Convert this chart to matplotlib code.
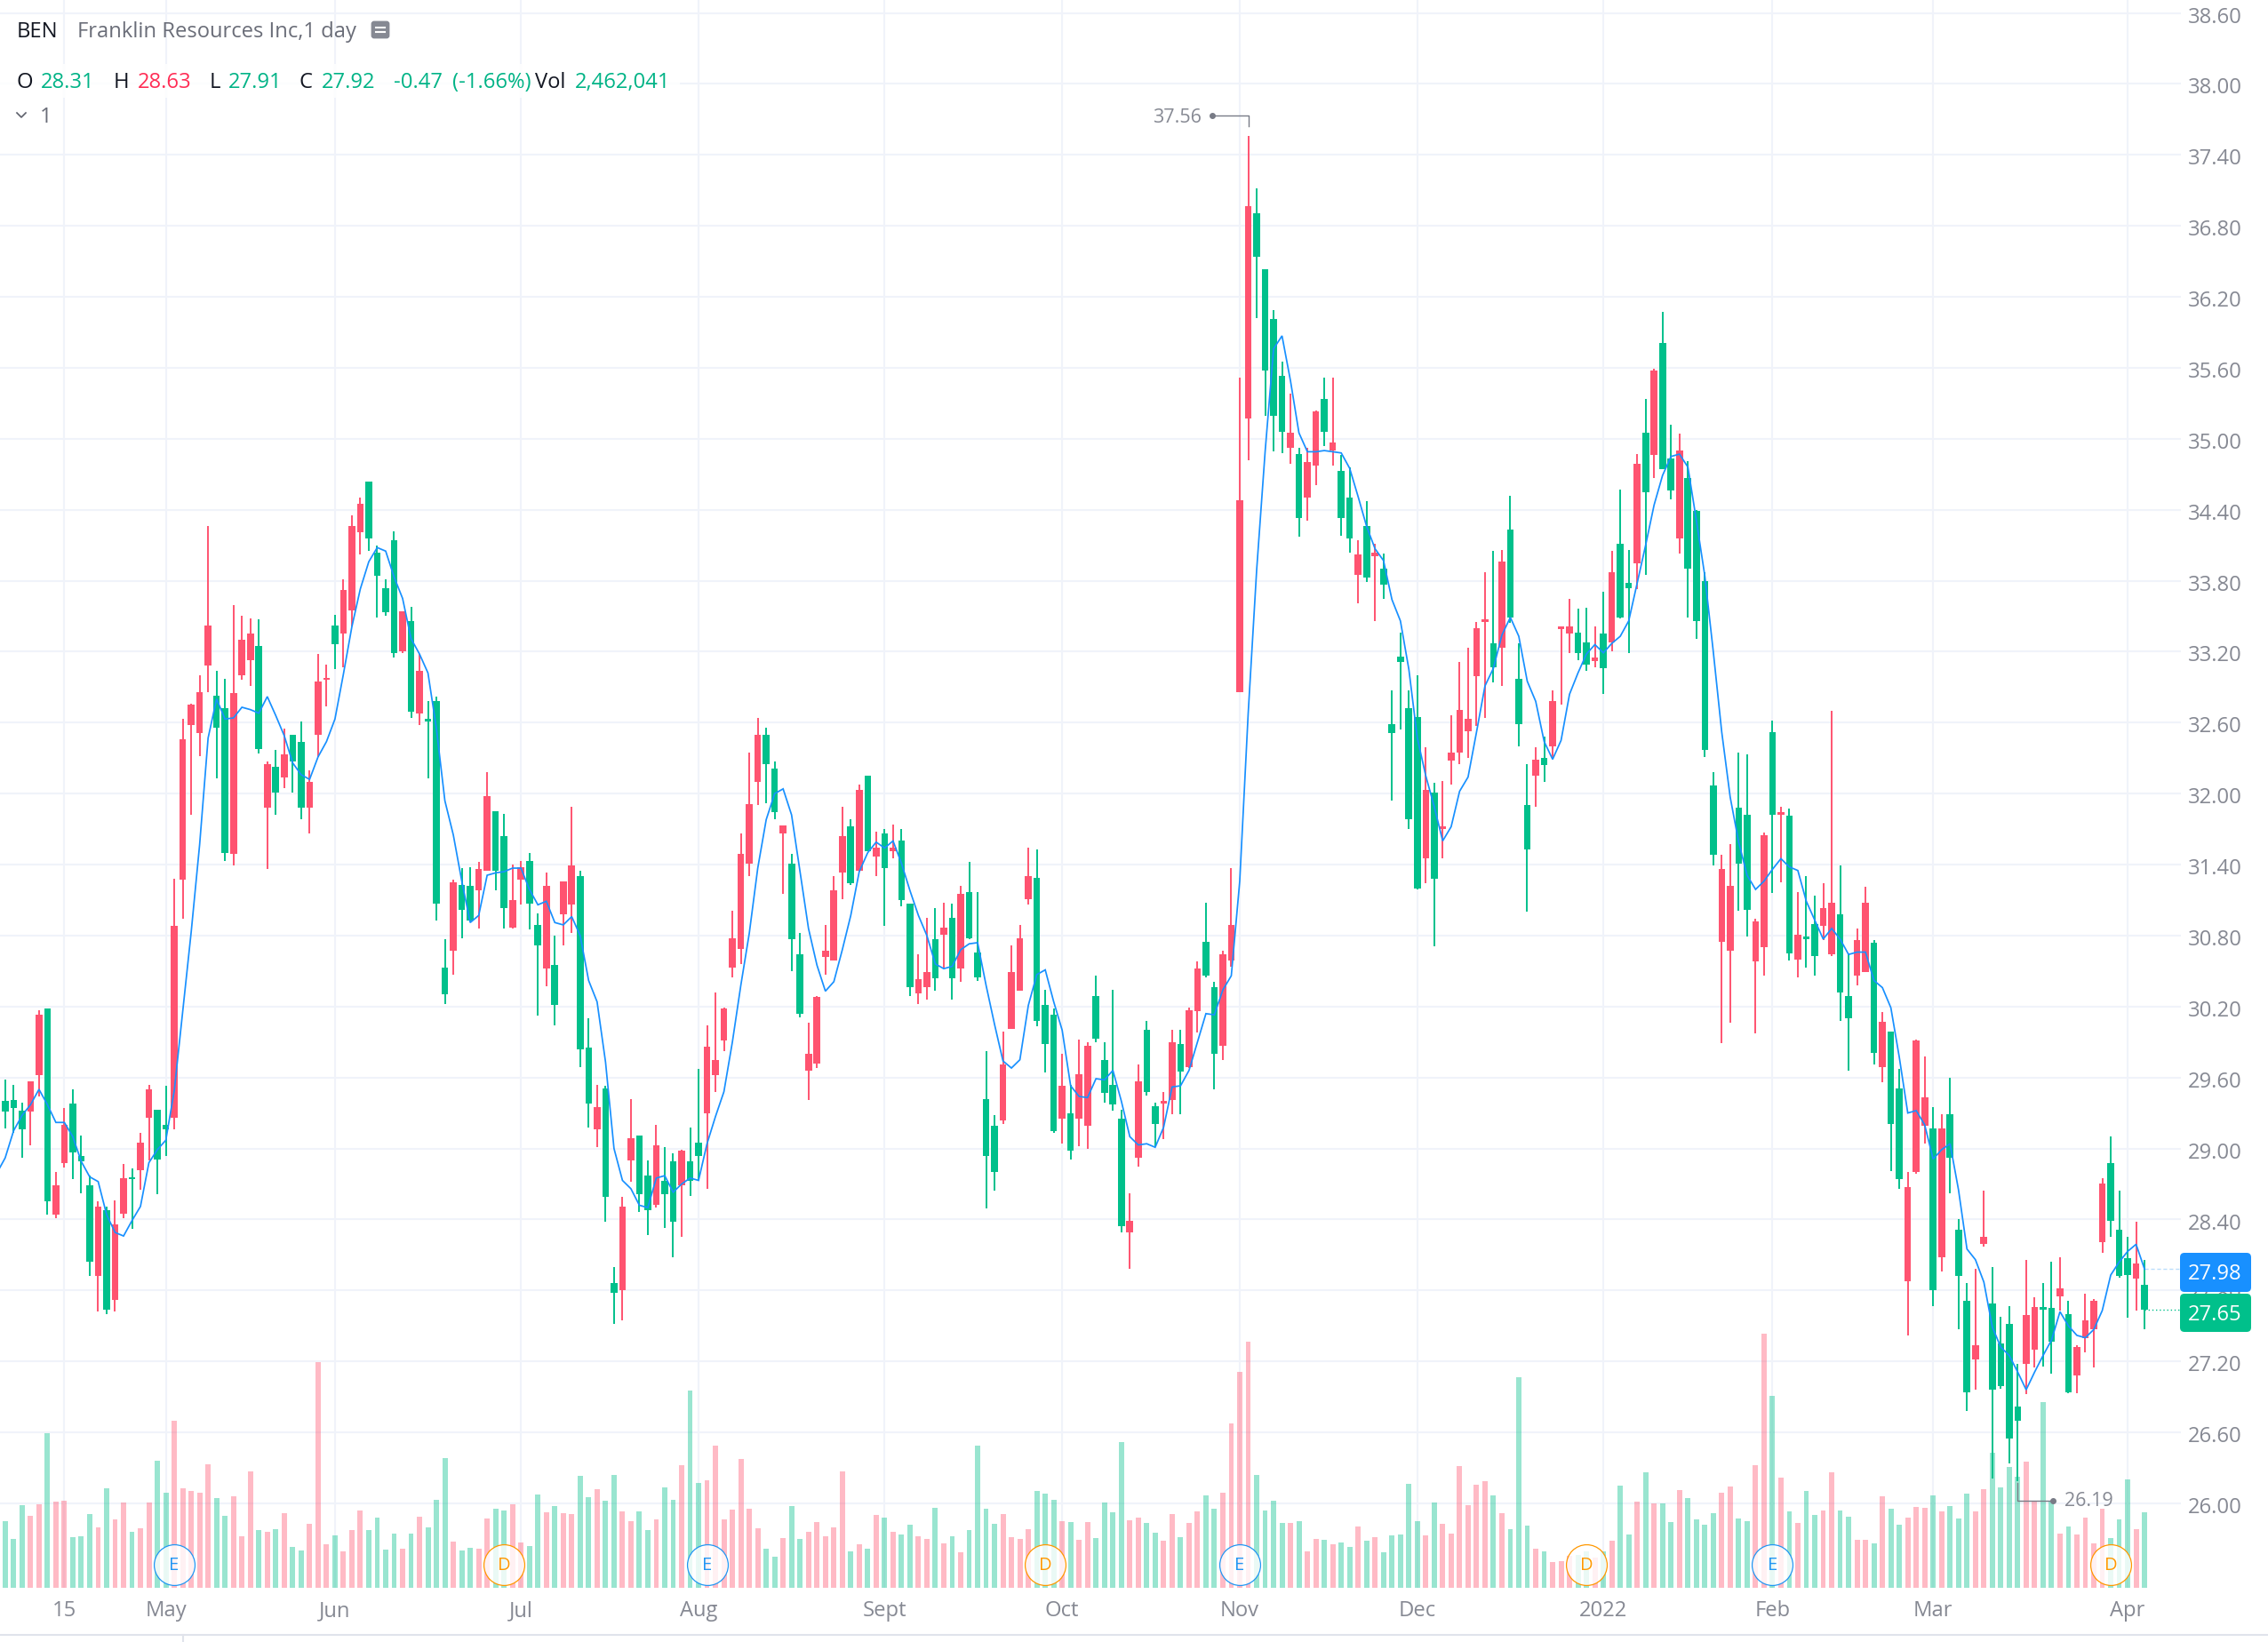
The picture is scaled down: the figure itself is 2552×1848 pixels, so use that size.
import numpy as np
import matplotlib
matplotlib.use("Agg")
import matplotlib.pyplot as plt
from matplotlib.patches import FancyBboxPatch, Rectangle
from matplotlib.transforms import ScaledTranslation

plt.rcParams["font.family"] = ["Open Sans", "DejaVu Sans"]

# daily candles, first one is cut off by the left edge
opens = [
    29.37, 29.40, 29.41, 29.32, 29.31, 29.62, 30.18, 28.44, 28.88, 29.38,
    28.94, 28.69, 27.92, 28.48, 27.72, 28.45, 28.75, 28.82, 29.26, 29.33,
    29.20, 29.26, 31.27, 32.58, 32.51, 33.08, 32.83, 32.72, 31.49, 33.00,
    33.13, 33.25, 31.88, 32.23, 32.14, 32.50, 32.44, 31.88, 32.50, 32.96,
    33.42, 33.35, 33.55, 34.21, 34.64, 34.04, 33.74, 34.14, 33.20, 33.46,
    32.68, 32.62, 32.78, 30.53, 30.67, 31.23, 31.22, 31.18, 31.35, 31.85,
    31.64, 30.87, 31.27, 31.43, 30.89, 30.52, 30.55, 30.98, 31.06, 31.30,
    29.85, 29.16, 29.51, 27.86, 27.80, 28.90, 29.11, 28.77, 28.52, 28.73,
    28.89, 28.69, 28.89, 29.05, 29.30, 29.62, 29.91, 30.53, 30.69, 31.41,
    32.10, 32.50, 32.21, 31.66, 31.41, 30.64, 29.66, 29.72, 30.62, 30.59,
    31.33, 31.72, 31.35, 32.15, 31.47, 31.66, 31.51, 31.60, 31.07, 30.31,
    30.36, 30.77, 30.81, 30.95, 30.52, 31.17, 30.66, 29.42, 29.19, 29.24,
    30.01, 30.33, 31.11, 31.29, 30.21, 30.13, 29.25, 29.30, 29.25, 29.19,
    30.29, 29.75, 29.54, 29.25, 28.29, 28.92, 30.00, 29.36, 29.38, 29.41,
    29.88, 29.69, 30.16, 30.75, 30.36, 29.87, 30.59, 32.86, 35.17, 36.91,
    36.43, 36.01, 35.53, 34.92, 34.87, 34.50, 34.77, 35.34, 34.90, 34.73,
    34.50, 33.85, 34.26, 34.01, 33.90, 32.59, 33.16, 32.72, 32.65, 31.45,
    32.01, 31.70, 32.28, 32.35, 32.53, 32.99, 33.45, 33.27, 33.23, 34.23,
    32.97, 31.90, 32.15, 32.30, 32.40, 33.39, 33.35, 33.36, 33.28, 33.12,
    33.35, 33.28, 34.11, 33.78, 33.95, 35.05, 34.86, 35.81, 34.83, 34.16,
    34.67, 34.39, 33.80, 32.07, 30.75, 30.67, 31.88, 31.82, 30.58, 30.70,
    32.52, 31.82, 31.81, 30.60, 30.79, 30.90, 30.88, 30.64, 30.98, 30.29,
    30.46, 30.49, 30.74, 29.69, 29.99, 29.51, 27.88, 28.80, 29.19, 29.17,
    28.08, 29.29, 28.31, 27.71, 27.22, 28.19, 27.69, 27.35, 27.52, 26.82,
    27.18, 27.30, 27.65, 27.65, 27.75, 27.60, 27.08, 27.40, 27.47, 28.21,
    28.88, 28.31, 28.07, 27.90, 27.85,
]
closes = [
    29.44, 29.31, 29.34, 29.16, 29.57, 30.13, 28.55, 28.69, 29.20, 28.97,
    28.89, 28.04, 28.51, 27.64, 28.36, 28.75, 28.74, 29.05, 29.50, 28.91,
    29.16, 30.88, 32.46, 32.75, 32.86, 33.42, 32.56, 31.50, 32.85, 33.30,
    33.35, 32.38, 32.25, 32.01, 32.33, 32.27, 31.88, 32.10, 32.95, 32.97,
    33.26, 33.72, 34.26, 34.45, 34.16, 33.84, 33.53, 33.19, 33.54, 32.69,
    33.04, 32.61, 31.07, 30.30, 31.25, 31.02, 30.93, 31.36, 31.98, 31.35,
    31.03, 31.10, 31.38, 31.07, 30.72, 31.22, 30.21, 31.26, 31.39, 29.84,
    29.38, 29.35, 28.59, 27.78, 28.51, 29.09, 28.61, 28.48, 29.03, 28.61,
    28.38, 28.98, 28.73, 28.94, 29.86, 29.75, 30.18, 30.78, 31.49, 31.91,
    32.50, 32.25, 31.84, 31.73, 30.77, 30.14, 29.80, 30.28, 30.67, 31.18,
    31.64, 31.24, 32.03, 31.51, 31.54, 31.37, 31.54, 31.10, 30.36, 30.43,
    30.49, 30.44, 30.87, 30.44, 31.15, 30.78, 30.45, 28.94, 28.80, 29.71,
    30.49, 30.78, 31.30, 30.08, 29.88, 29.15, 29.53, 28.98, 29.63, 29.87,
    29.93, 29.47, 29.37, 28.34, 28.39, 29.57, 29.48, 29.21, 29.39, 29.90,
    29.65, 30.17, 30.52, 30.46, 29.80, 30.64, 30.89, 34.48, 36.97, 36.54,
    35.58, 35.19, 35.06, 35.05, 34.33, 34.80, 35.23, 35.06, 34.97, 34.33,
    34.16, 34.02, 33.83, 34.04, 33.77, 32.51, 33.11, 31.78, 31.20, 32.03,
    31.28, 31.72, 32.35, 32.71, 32.63, 33.40, 33.47, 33.07, 33.96, 33.49,
    32.59, 31.53, 32.29, 32.24, 32.78, 33.41, 33.41, 33.19, 33.09, 33.15,
    33.06, 33.87, 33.49, 33.74, 34.79, 34.55, 35.58, 34.74, 34.56, 34.90,
    33.90, 33.46, 32.37, 31.48, 31.36, 31.22, 31.41, 31.02, 30.92, 31.65,
    31.82, 31.83, 30.65, 30.81, 30.77, 30.63, 31.03, 31.08, 30.32, 30.10,
    30.76, 31.08, 29.81, 30.07, 29.21, 28.74, 28.67, 29.91, 29.43, 27.80,
    29.17, 28.92, 27.92, 26.94, 27.34, 28.25, 26.96, 26.99, 26.55, 26.70,
    27.59, 27.66, 27.64, 27.37, 27.82, 26.94, 27.32, 27.55, 27.71, 28.70,
    28.39, 27.92, 27.93, 28.03, 27.64,
]
highs = [
    29.50, 29.58, 29.54, 29.39, 29.57, 30.17, 30.18, 28.80, 29.34, 29.50,
    29.11, 28.77, 28.55, 28.51, 28.56, 28.87, 28.83, 29.13, 29.54, 29.33,
    29.53, 31.28, 32.63, 32.76, 33.00, 34.26, 33.04, 32.97, 33.59, 33.50,
    33.48, 33.47, 32.27, 32.37, 32.55, 32.50, 32.61, 32.20, 33.18, 33.09,
    33.51, 33.81, 34.35, 34.50, 34.64, 34.10, 33.81, 34.22, 33.54, 33.58,
    33.18, 32.78, 32.82, 30.77, 31.27, 31.37, 31.38, 31.42, 32.18, 31.85,
    31.83, 31.40, 31.43, 31.50, 30.99, 31.33, 30.80, 31.26, 31.89, 31.35,
    30.10, 29.54, 29.53, 28.00, 28.59, 29.42, 29.11, 28.90, 29.20, 29.01,
    28.96, 28.99, 29.18, 29.67, 30.04, 30.32, 30.19, 31.01, 31.66, 32.35,
    32.64, 32.56, 32.27, 31.73, 31.49, 30.82, 30.06, 30.29, 30.89, 31.30,
    31.89, 31.78, 32.08, 32.15, 31.68, 31.70, 31.74, 31.70, 31.07, 30.64,
    30.95, 31.03, 31.08, 31.07, 31.22, 31.42, 31.17, 29.82, 29.28, 29.99,
    30.72, 30.89, 31.54, 31.53, 30.34, 30.18, 29.80, 29.54, 29.92, 29.90,
    30.46, 29.90, 30.34, 29.33, 28.62, 29.71, 30.08, 29.39, 29.48, 30.00,
    30.00, 30.19, 30.58, 31.08, 30.41, 30.67, 31.37, 35.52, 37.56, 37.12,
    36.43, 36.09, 35.65, 35.38, 34.92, 34.92, 35.24, 35.52, 35.52, 34.86,
    34.76, 34.14, 34.47, 34.11, 34.03, 32.87, 33.36, 32.87, 33.00, 32.39,
    32.09, 32.11, 32.66, 33.11, 33.23, 33.45, 33.87, 34.05, 34.06, 34.52,
    33.27, 32.25, 32.39, 32.48, 32.87, 33.41, 33.65, 33.56, 33.57, 33.41,
    33.71, 34.05, 34.57, 34.06, 34.87, 35.34, 35.59, 36.07, 35.12, 35.04,
    34.81, 34.40, 33.87, 32.18, 31.48, 31.57, 32.35, 32.33, 30.94, 31.67,
    32.62, 31.89, 31.87, 31.17, 31.30, 31.14, 31.24, 32.70, 31.39, 30.65,
    30.86, 31.21, 30.76, 30.15, 29.99, 29.67, 28.80, 29.92, 29.78, 29.35,
    29.29, 29.60, 28.40, 27.86, 27.98, 28.64, 28.00, 27.58, 27.67, 27.18,
    28.06, 27.74, 27.86, 28.04, 28.08, 27.71, 27.34, 27.77, 27.73, 28.75,
    29.10, 28.64, 28.25, 28.38, 28.06,
]
lows = [
    29.30, 29.17, 29.13, 28.92, 29.03, 29.44, 28.44, 28.41, 28.84, 28.74,
    28.62, 27.92, 27.62, 27.60, 27.62, 28.41, 28.32, 28.65, 28.90, 28.61,
    28.94, 29.16, 30.94, 31.82, 32.32, 32.86, 32.13, 31.43, 31.39, 32.96,
    32.91, 32.34, 31.36, 31.82, 32.05, 32.01, 31.78, 31.66, 32.31, 32.74,
    33.05, 33.07, 33.41, 34.02, 34.05, 33.49, 33.50, 33.15, 33.19, 32.64,
    32.58, 32.13, 30.93, 30.22, 30.47, 30.78, 30.92, 30.86, 31.35, 31.18,
    30.86, 30.86, 31.06, 30.85, 30.12, 30.37, 30.04, 30.72, 30.82, 29.69,
    29.18, 29.01, 28.38, 27.52, 27.55, 28.72, 28.46, 28.27, 28.50, 28.33,
    28.08, 28.25, 28.60, 28.73, 28.66, 29.48, 29.82, 30.45, 30.56, 31.30,
    31.90, 31.92, 31.78, 31.15, 30.50, 30.11, 29.41, 29.68, 30.47, 30.59,
    31.11, 31.23, 31.34, 31.51, 31.30, 30.88, 31.45, 31.05, 30.29, 30.22,
    30.26, 30.33, 30.52, 30.26, 30.41, 30.77, 30.42, 28.49, 28.64, 29.21,
    30.01, 30.33, 31.06, 30.03, 29.64, 29.13, 29.04, 28.91, 29.02, 29.00,
    29.90, 29.39, 29.32, 28.29, 27.98, 28.85, 29.45, 29.02, 29.08, 29.29,
    29.29, 29.68, 29.98, 30.45, 29.50, 29.75, 30.54, 32.86, 34.82, 36.02,
    35.19, 34.89, 34.88, 34.79, 34.17, 34.31, 34.61, 34.94, 34.77, 34.18,
    34.04, 33.61, 33.79, 33.46, 33.65, 31.94, 32.54, 31.70, 31.19, 31.24,
    30.71, 31.45, 32.08, 32.25, 32.30, 32.57, 32.64, 32.94, 32.91, 33.44,
    32.40, 31.00, 31.89, 32.10, 32.30, 32.75, 33.19, 33.13, 33.04, 33.07,
    32.84, 33.20, 33.48, 33.19, 33.73, 33.85, 34.67, 34.74, 34.49, 34.03,
    33.49, 33.31, 32.31, 31.39, 29.89, 30.06, 31.01, 30.79, 29.97, 30.46,
    31.16, 31.25, 30.59, 30.45, 30.53, 30.46, 30.76, 30.63, 30.08, 29.66,
    30.38, 30.49, 29.71, 29.56, 28.81, 28.66, 27.42, 28.79, 29.04, 27.67,
    27.96, 28.62, 27.47, 26.78, 26.96, 28.17, 26.21, 26.97, 26.34, 26.19,
    26.92, 27.15, 27.16, 27.10, 27.63, 26.93, 26.93, 27.28, 27.15, 28.12,
    28.25, 27.91, 27.57, 27.63, 27.47,
]
# volume in millions of shares
volumes = [
    1.50, 2.18, 1.60, 2.70, 2.36, 2.73, 5.05, 2.82, 2.85, 1.66,
    1.69, 2.41, 1.98, 3.25, 2.24, 2.79, 1.83, 1.95, 2.79, 4.15,
    3.11, 5.46, 3.25, 3.17, 3.11, 4.04, 2.94, 2.36, 2.99, 1.69,
    3.80, 1.89, 1.83, 1.92, 2.44, 1.34, 1.23, 2.10, 7.37, 1.43,
    1.72, 1.20, 1.89, 2.53, 1.89, 2.30, 1.26, 1.78, 1.28, 1.78,
    2.33, 1.98, 2.88, 4.24, 1.52, 1.23, 1.31, 1.28, 2.27, 2.59,
    2.53, 2.73, 1.49, 1.37, 3.05, 2.47, 2.67, 2.44, 2.41, 3.66,
    2.96, 3.22, 2.85, 3.69, 2.50, 2.18, 2.50, 1.89, 2.24, 3.28,
    2.88, 4.01, 6.44, 3.43, 3.51, 4.64, 2.24, 2.56, 4.21, 2.59,
    1.95, 1.28, 1.02, 1.63, 2.67, 1.60, 1.83, 2.15, 1.69, 1.98,
    3.80, 1.20, 1.43, 1.28, 2.38, 2.30, 1.83, 1.75, 2.07, 1.69,
    1.60, 2.62, 1.46, 1.69, 1.17, 1.89, 4.64, 2.59, 2.10, 2.41,
    1.66, 1.60, 1.92, 3.17, 3.08, 2.88, 2.18, 2.15, 1.57, 2.15,
    1.63, 2.79, 2.47, 4.76, 2.21, 2.30, 2.12, 1.81, 1.54, 2.41,
    1.66, 2.12, 2.50, 3.02, 2.59, 3.11, 5.37, 7.05, 8.03, 3.69,
    2.53, 2.85, 2.12, 2.12, 2.18, 1.20, 1.60, 1.57, 1.43, 1.49,
    1.34, 2.01, 1.54, 1.66, 1.17, 1.72, 1.75, 3.40, 2.18, 1.72,
    2.79, 2.10, 1.78, 3.98, 2.70, 3.37, 3.49, 3.02, 2.44, 1.92,
    6.87, 2.04, 1.28, 1.20, 0.85, 0.88, 1.05, 1.08, 1.18, 0.98,
    1.20, 1.54, 3.34, 1.75, 2.82, 3.78, 2.76, 2.76, 2.15, 3.20,
    2.94, 2.24, 2.07, 2.44, 3.11, 3.31, 2.27, 2.18, 4.01, 8.29,
    6.27, 3.60, 2.50, 2.12, 3.17, 2.38, 2.53, 3.78, 2.53, 2.33,
    1.57, 1.57, 1.46, 2.99, 2.59, 2.07, 2.30, 2.65, 2.62, 3.02,
    2.50, 2.67, 2.27, 3.08, 2.50, 3.22, 4.41, 3.27, 3.95, 3.63,
    4.12, 2.84, 6.05, 2.84, 1.76, 2.00, 1.74, 2.29, 1.45, 2.58,
    1.62, 2.23, 3.54, 1.91, 2.46,
]
ma_values = [
    28.79, 28.92, 29.15, 29.28, 29.37, 29.50, 29.37, 29.22, 29.22, 29.10,
    28.89, 28.76, 28.72, 28.44, 28.29, 28.26, 28.39, 28.51, 28.88, 28.99,
    29.07, 29.49, 30.16, 30.83, 31.57, 32.47, 32.80, 32.63, 32.64, 32.73,
    32.71, 32.68, 32.82, 32.66, 32.49, 32.26, 32.16, 32.12, 32.31, 32.44,
    32.63, 33.01, 33.41, 33.73, 33.96, 34.08, 34.05, 33.83, 33.65, 33.31,
    33.18, 33.02, 32.55, 31.94, 31.65, 31.26, 30.91, 30.97, 31.31, 31.33,
    31.34, 31.37, 31.37, 31.19, 31.06, 31.09, 30.91, 30.89, 30.96, 30.80,
    30.42, 30.24, 29.73, 29.00, 28.73, 28.66, 28.52, 28.50, 28.75, 28.77,
    28.63, 28.70, 28.75, 28.73, 29.04, 29.27, 29.48, 29.90, 30.38, 30.82,
    31.37, 31.78, 32.00, 32.04, 31.82, 31.34, 30.86, 30.55, 30.33, 30.41,
    30.68, 30.97, 31.34, 31.50, 31.59, 31.54, 31.60, 31.41, 31.18, 30.97,
    30.80, 30.56, 30.52, 30.54, 30.68, 30.73, 30.74, 30.38, 30.05, 29.74,
    29.68, 29.75, 30.21, 30.47, 30.51, 30.24, 30.00, 29.53, 29.44, 29.43,
    29.59, 29.58, 29.66, 29.40, 29.10, 29.03, 29.04, 29.01, 29.18, 29.52,
    29.53, 29.66, 29.90, 30.14, 30.13, 30.34, 30.46, 31.26, 32.68, 33.89,
    34.89, 35.76, 35.87, 35.49, 35.05, 34.89, 34.89, 34.90, 34.89, 34.88,
    34.75, 34.51, 34.26, 34.07, 33.97, 33.64, 33.46, 33.05, 32.47, 32.15,
    31.89, 31.60, 31.72, 32.02, 32.14, 32.52, 32.91, 33.06, 33.34, 33.49,
    33.33, 32.95, 32.78, 32.44, 32.29, 32.45, 32.84, 33.02, 33.18, 33.26,
    33.19, 33.27, 33.33, 33.46, 33.78, 34.10, 34.44, 34.69, 34.85, 34.87,
    34.76, 34.31, 33.84, 33.20, 32.52, 31.97, 31.59, 31.31, 31.19, 31.26,
    31.36, 31.45, 31.38, 31.35, 31.09, 30.93, 30.77, 30.86, 30.77, 30.64,
    30.66, 30.66, 30.42, 30.36, 30.19, 29.77, 29.30, 29.32, 29.20, 28.91,
    28.99, 29.04, 28.65, 28.15, 28.06, 27.87, 27.49, 27.32, 27.25, 27.11,
    26.96, 27.11, 27.25, 27.38, 27.62, 27.50, 27.42, 27.40, 27.47, 27.63,
    27.93, 28.04, 28.13, 28.19, 27.98,
]

price_ticks = [26.0 + 0.6 * k for k in range(22)]
month_idx = [8, 20, 40, 62, 83, 105, 126, 147, 168, 190, 210, 229, 252]
month_labels = ["15", "May", "Jun", "Jul", "Aug", "Sept", "Oct", "Nov", "Dec", "2022", "Feb", "Mar", "Apr"]
event_idx = [21, 60, 84, 124, 147, 188, 210, 250]
event_kind = ["E", "D", "E", "D", "E", "D", "E", "D"]

W, H = 2552, 1848
GREEN = "#00C08B"
RED = "#FF5370"
BLUE = "#1890FF"
GRID = "#F0F3FA"
AXTEXT = "#868993"
FS = 17.1

fig = plt.figure(figsize=(W / 100, H / 100), dpi=100, facecolor="white")
rect = [0, (H - 1787) / H, 2454 / W, 1787 / H]

axv = fig.add_axes(rect, zorder=1)
ax = fig.add_axes(rect, zorder=2, sharex=axv)
ax.patch.set_visible(False)

idx = np.arange(len(opens))
o, c, hi, lo = map(np.array, (opens, closes, highs, lows))
up = c >= o
cols = np.where(up, RED, GREEN)

ax.set_xlim(0.39, 258.3)
ax.set_ylim(25.286, 38.709)
axv.set_ylim(0, 51.77)

# grid lives on the volume axes so the bars sit on top of it
axv.hlines(price_ticks, 0, 1, transform=ax.get_yaxis_transform(), color=GRID, lw=1.5, zorder=0)
axv.vlines(month_idx, 0, 1, transform=axv.get_xaxis_transform(), color=GRID, lw=1.5, zorder=0)

axv.bar(idx, volumes, width=0.62, color=cols, alpha=0.4, linewidth=0, zorder=2)

# candles
ax.vlines(idx, lo, hi, color=cols, lw=1.4, zorder=3)
ax.bar(idx, np.maximum(np.abs(c - o), 0.02), bottom=np.minimum(o, c), width=0.8, color=cols, linewidth=0, zorder=3)
ax.plot(idx, ma_values, color=BLUE, lw=1.25, zorder=4, solid_joinstyle="miter")

# last value guide lines
ax.hlines(ma_values[-1], idx[-1], 258.3, color="#BBDEFB", lw=1, ls=(0, (3, 2)), zorder=1)
ax.hlines(closes[-1], idx[-1], 258.3, color=GREEN, lw=1, ls=(0, (1, 2)), zorder=1)

# high / low leaders
i_hi = int(np.argmax(hi))
ax.plot([i_hi, i_hi, i_hi - 4.3], [hi[i_hi] + 0.08, hi[i_hi] + 0.17, hi[i_hi] + 0.17], color="#787B86", lw=1, zorder=5)
ax.plot([i_hi - 4.3], [hi[i_hi] + 0.17], "o", color="#787B86", ms=4, zorder=5)
ax.text(i_hi - 5.5, hi[i_hi] + 0.155, f"{hi[i_hi]:.2f}", color=AXTEXT, fontsize=15.5, ha="right", va="center")
i_lo = int(np.argmin(lo))
ax.plot([i_lo, i_lo, i_lo + 4.2], [lo[i_lo] - 0.02, lo[i_lo] - 0.17, lo[i_lo] - 0.17], color="#787B86", lw=1, zorder=5)
ax.plot([i_lo + 4.2], [lo[i_lo] - 0.17], "o", color="#787B86", ms=4, zorder=5)
ax.text(i_lo + 5.5, lo[i_lo] - 0.17, f"{lo[i_lo]:.2f}", color=AXTEXT, fontsize=15.5, ha="left", va="center")

# earnings / dividend badges
for i, kind in zip(event_idx, event_kind):
    col = "#2196F3" if kind == "E" else "#FF9800"
    ax.scatter([i], [25.48], s=1090, facecolor=(1, 1, 1, 0.8), edgecolor=col, linewidth=0.9, zorder=6)
    ax.text(i, 25.475, kind, color=col, fontsize=14.5, ha="center", va="center", zorder=7)

ax.yaxis.tick_right()
ax.set_yticks(price_ticks)
ax.set_yticklabels([f"{p:.2f}" for p in price_ticks], color=AXTEXT, fontsize=FS)
ax.set_xticks(month_idx)
ax.set_xticklabels(month_labels, color=AXTEXT, fontsize=FS)
ax.tick_params(axis="y", length=0, pad=5.8)
ax.tick_params(axis="x", length=0, pad=10)
# labels sit a touch lower than matplotlib centres them
nudge = ScaledTranslation(0, -1.5 / 72, fig.dpi_scale_trans)
for lab in ax.get_yticklabels():
    lab.set_transform(lab.get_transform() + nudge)
axv.tick_params(left=False, labelleft=False, bottom=False, labelbottom=False)
for a in (ax, axv):
    for s in a.spines.values():
        s.set_visible(False)

# overlay in pixel coordinates for the legend and price boxes
ov = fig.add_axes([0, 0, 1, 1], zorder=5)
ov.set_xlim(0, W)
ov.set_ylim(H, 0)
ov.axis("off")

ov.add_patch(Rectangle((0, 72), 765, 38, facecolor="white", alpha=0.85, linewidth=0))
DARK = "#131722"
TXT_GREEN = "#00B386"
TXT_RED = "#FF2D55"
legend_row1 = [(19, "BEN", DARK), (87, "Franklin Resources Inc,1 day", "#6A6D78")]
legend_row2 = [
    (19, "O", DARK), (46, "28.31", TXT_GREEN), (128, "H", DARK), (155, "28.63", TXT_RED),
    (236, "L", DARK), (257, "27.91", TXT_GREEN), (337, "C", DARK), (362, "27.92", TXT_GREEN),
    (443, "-0.47", TXT_GREEN), (509, "(-1.66%)", TXT_GREEN), (602, "Vol", DARK), (647, "2,462,041", TXT_GREEN),
]
for x, s, col in legend_row1:
    ov.text(x, 36, s, color=col, fontsize=FS, ha="left", va="center")
for x, s, col in legend_row2:
    ov.text(x, 93, s, color=col, fontsize=FS, ha="left", va="center")

ov.add_patch(FancyBboxPatch((419, 25), 18, 17, boxstyle="round,pad=0,rounding_size=2", facecolor="#868993", linewidth=2, edgecolor="#868993"))
ov.plot([423, 433], [31, 31], color="white", lw=1.5)
ov.plot([423, 433], [36, 36], color="white", lw=1.5)

ov.plot([19, 24, 29], [127, 132, 127], color="#5D606B", lw=1.2)
ov.text(45, 132, "1", color="#6A6D78", fontsize=FS, ha="left", va="center")

for y0, y1, col, s in [(1410, 1454, BLUE, "27.98"), (1456, 1499, GREEN, "27.65")]:
    ov.add_patch(FancyBboxPatch((2455, y0 + 2), 76, y1 - y0 - 4, boxstyle="round,pad=2,rounding_size=5", facecolor=col, linewidth=0))
    ov.text(2492, (y0 + y1) / 2 + 2, s, color="white", fontsize=FS, ha="center", va="center")

# bottom border of the time axis
ov.plot([0, W], [1840, 1840], color="#E0E3EB", lw=1.5)
ov.plot([206, 206], [1840, 1848], color="#E0E3EB", lw=1.5)

fig.savefig("out.png", dpi=100)
